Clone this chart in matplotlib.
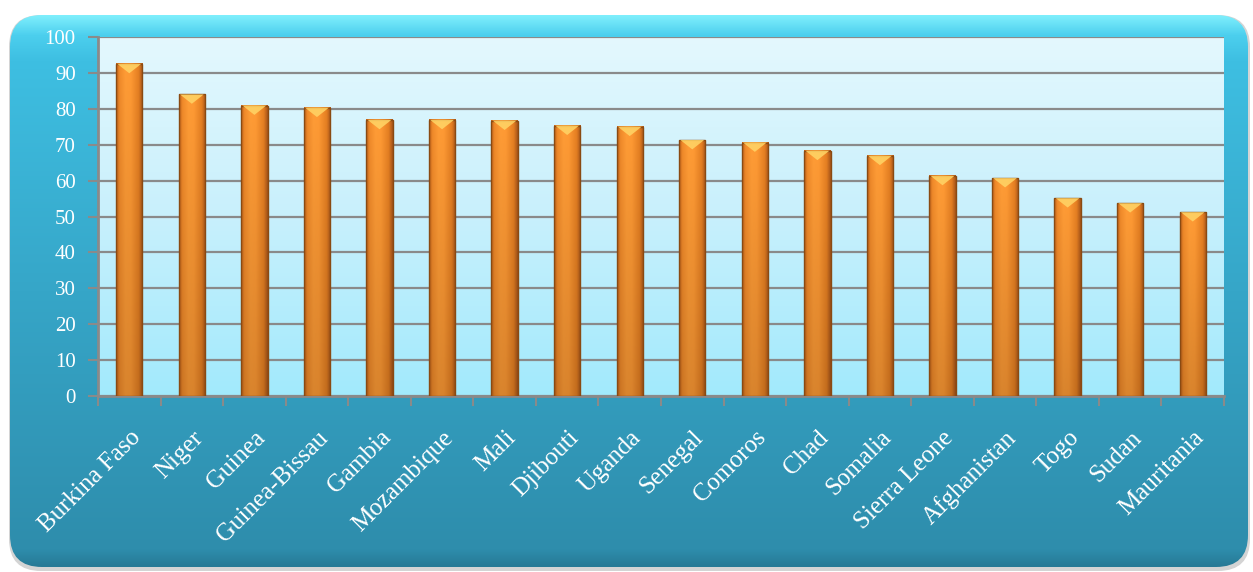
import numpy as np
import matplotlib
matplotlib.use("Agg")
import matplotlib.pyplot as plt
from matplotlib.patches import FancyBboxPatch, Polygon, Rectangle
from matplotlib.colors import LinearSegmentedColormap, to_rgb

countries = ["Burkina Faso", "Niger", "Guinea", "Guinea-Bissau", "Gambia",
             "Mozambique", "Mali", "Djibouti", "Uganda", "Senegal", "Comoros",
             "Chad", "Somalia", "Sierra Leone", "Afghanistan", "Togo", "Sudan",
             "Mauritania"]
values = [92.5, 84.0, 80.9, 80.3, 76.9, 76.9, 76.7, 75.3, 75.0, 71.3, 70.6,
          68.3, 66.9, 61.3, 60.7, 55.1, 53.7, 51.2]
yticks = list(range(0, 101, 10))

SERIF = ["Liberation Serif", "DejaVu Serif"]

fig = plt.figure(figsize=(12.53, 5.72), dpi=100)
fig.patch.set_facecolor("white")

# ---- background rounded panel ----
bg = fig.add_axes([0, 0, 1, 1])
bg.set_xlim(0, 1253)
bg.set_ylim(572, 0)
bg.axis("off")

shadow = FancyBboxPatch((9, 15), 1241, 556, boxstyle="round,pad=0,rounding_size=32",
                        facecolor="#d4d4d4", edgecolor="none", zorder=0)
bg.add_patch(shadow)
box = FancyBboxPatch((10, 15), 1238, 552, boxstyle="round,pad=0,rounding_size=32",
                     facecolor="none", edgecolor="none", zorder=1)
bg.add_patch(box)
grad = np.linspace(0, 1, 256).reshape(-1, 1)
cmap_bg = LinearSegmentedColormap.from_list(
    "bg", [(0, "#7eeefc"), (0.035, "#4ccfee"), (0.08, "#3ebfe2"),
           (0.5, "#36a6c8"), (0.97, "#2e8dac"), (1, "#277a96")])
im = bg.imshow(grad, extent=[10, 1248, 567, 15], cmap=cmap_bg, aspect="auto",
               zorder=1, interpolation="bilinear")
im.set_clip_path(box)
bg.set_xlim(0, 1253)
bg.set_ylim(572, 0)

# ---- main axes ----
ax = fig.add_axes([98 / 1253, 1 - 396 / 572, (1224 - 98) / 1253, (396 - 37) / 572])
n = len(countries)
cmap_pa = LinearSegmentedColormap.from_list("pa", ["#e4f8fe", "#c8f0fc", "#a2eafd"])
ax.imshow(grad, extent=[-0.5, n - 0.5, 0, 100], cmap=cmap_pa, aspect="auto",
          zorder=0, interpolation="bilinear")

# bar gradient image
W = 40
H = 100
prof_x = np.linspace(0, 1, W)
stops_x = [0, 0.12, 0.35, 0.55, 0.85, 1.0]
cols_x = [to_rgb(c) for c in ["#c0621a", "#f08a2a", "#ff9c36", "#ff9a34", "#e57f22", "#a9561a"]]
row = np.array([[np.interp(p, stops_x, [c[k] for c in cols_x]) for k in range(3)] for p in prof_x])
vf = np.linspace(1.0, 0.85, H).reshape(-1, 1, 1)  # darker at bottom
bar_img = np.clip(row[None, :, :] * vf, 0, 1)

w = 0.42
for i, v in enumerate(values):
    ax.imshow(bar_img, extent=[i - w / 2, i + w / 2, 0, v], aspect="auto",
              zorder=3, interpolation="bilinear")
    ax.add_patch(Rectangle((i - w / 2, 0), w, v, facecolor="none",
                           edgecolor="#8a4a12", lw=1.0, zorder=4))
    ax.add_patch(Polygon([(i - w / 2 + 0.02, v), (i + w / 2 - 0.02, v), (i, v - 2.6)],
                         closed=True, facecolor="#ffd264", edgecolor="none",
                         alpha=0.9, zorder=4))

ax.set_xlim(-0.5, n - 0.5)
ax.set_ylim(0, 100)

ax.set_yticks(yticks)
ax.set_yticklabels([str(t) for t in yticks], color="white", fontsize=15,
                   family=SERIF)
ax.tick_params(axis="y", length=7, width=1.5, color="#8a8a8a", pad=9)

ax.set_xticks(range(n))
ax.set_xticklabels(countries, rotation=45, ha="right", rotation_mode="anchor",
                   color="white", fontsize=18, family=SERIF)
ax.tick_params(axis="x", which="major", length=0, pad=22)
ax.set_xticks(np.arange(-0.5, n, 1), minor=True)
ax.tick_params(axis="x", which="minor", length=7, width=1.5, color="#8a8a8a")

ax.yaxis.grid(True, color="#8a8a8a", lw=1.6, zorder=1)
ax.set_axisbelow(True)
for s in ["top", "right"]:
    ax.spines[s].set_visible(False)
for s in ["left", "bottom"]:
    ax.spines[s].set_color("#8a8a8a")
    ax.spines[s].set_linewidth(2)

fig.savefig("out.png", dpi=100, facecolor="white")
